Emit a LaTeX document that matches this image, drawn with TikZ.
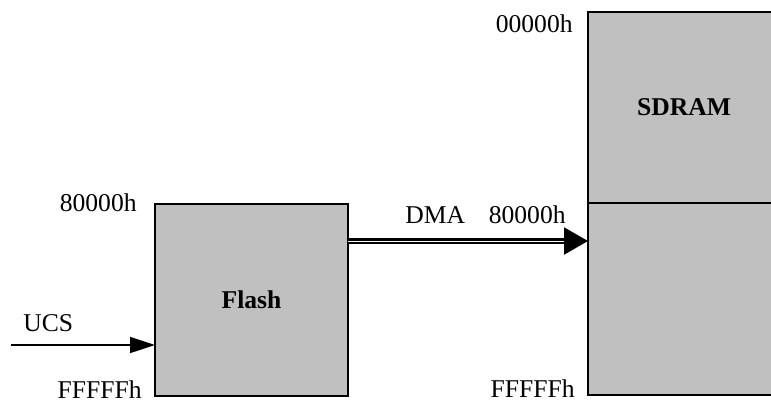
\documentclass[tikz,border=0pt]{standalone}
\usepackage{fontspec}
\setmainfont{Liberation Serif}
\usepackage{xcolor}
\usetikzlibrary{arrows.meta, positioning}

\definecolor{memgray}{HTML}{C0C0C0}

\begin{document}
\begin{tikzpicture}[x=0.5pt, y=-0.5pt,
        mem/.style={rectangle, draw=black, line width=1pt, fill=memgray, minimum width=96pt, inner sep=0pt, outer sep=0pt, font=\fontsize{12.8}{15}\selectfont\bfseries},
        addr/.style={inner sep=0pt, font=\fontsize{12.8}{15}\selectfont},
        arrow/.style={-{Triangle[length=12.5pt, width=8pt]}, line width=0.8pt},
        dma/.style={-{Triangle[length=12pt, width=13.5pt]}, double, line width=1.1pt, double distance=0.5pt}
    ]
    \useasboundingbox (0,0) rectangle (771,403);

    % Flash
    \node (flash) [mem, minimum width=96.5pt, minimum height=96pt] at (251.5,300) {Flash};

    % SDRAM (two halves)
    \node (sdramtop) [mem, minimum height=95.5pt, anchor=north west] at (588,12) {SDRAM};
    \node (sdrambot) [mem, minimum height=96pt, below=0pt of sdramtop] {};

    % Addresses
    \node (flashlo) [addr, anchor=east] at (137,203) {80000h};
    \node (flashhi) [addr, anchor=east] at (142,390) {FFFFFh};
    \node (sdramlo) [addr, anchor=east] at (573,24) {00000h};
    \node (sdrammid) [addr, anchor=east] at (566,215) {80000h};
    \node (sdramhi) [addr, anchor=east] at (575,389) {FFFFFh};

    % Chip select
    \coordinate (ucsin) at (11,345);
    \node (ucs) [addr, anchor=west] at (23,323) {UCS};
    \draw[arrow] (ucsin) -- (flash.west |- ucsin);

    % DMA transfer
    \coordinate (dmay) at (0,241);
    \node (dma) [addr, anchor=west] at (405,215) {DMA};
    \draw[dma] (flash.east |- dmay) -- (sdrambot.west |- dmay);

\end{tikzpicture}
\end{document}
